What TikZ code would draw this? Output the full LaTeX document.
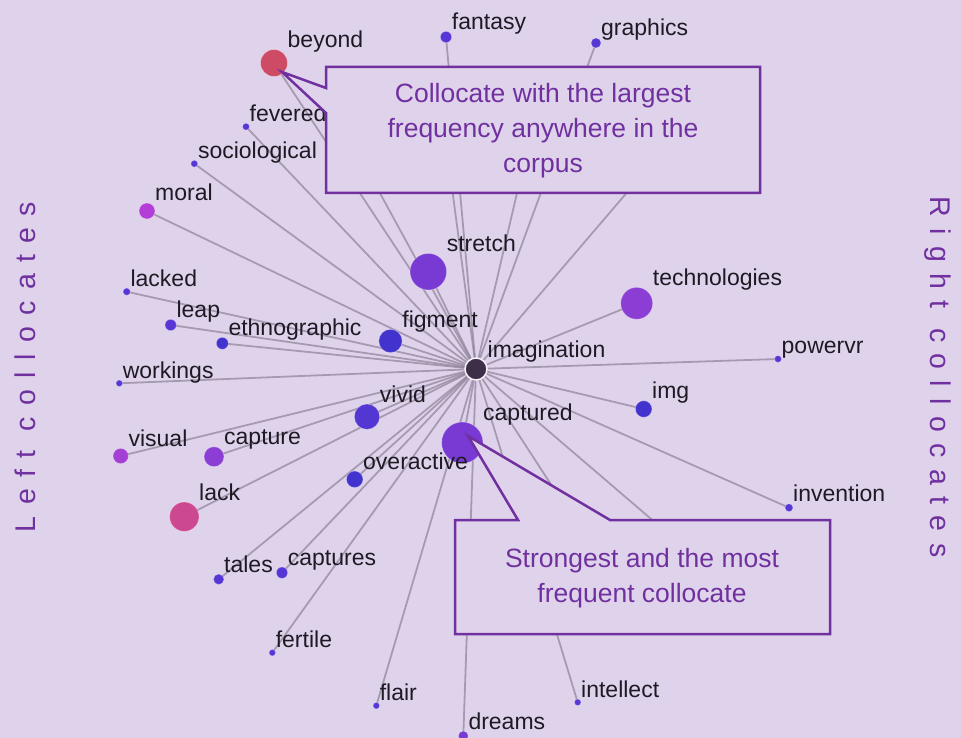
\documentclass[tikz,border=0pt]{standalone}
\usepackage{fontspec}
\setmainfont{Liberation Sans}
\usetikzlibrary{calc}
\definecolor{bg}{HTML}{DFD3EB}
\definecolor{edge}{HTML}{8F8299}
\definecolor{callout}{HTML}{7030A0}
\definecolor{ink}{HTML}{1E1A24}
\definecolor{cRed}{HTML}{CE4B66}
\definecolor{cPink}{HTML}{CC4891}
\definecolor{cMag}{HTML}{B33DD6}
\definecolor{cVis}{HTML}{A43ED5}
\definecolor{cPur}{HTML}{8C3ED4}
\definecolor{cVio}{HTML}{783AD3}
\definecolor{cInd}{HTML}{5436D2}
\definecolor{cBlu}{HTML}{4233CE}
\definecolor{cDot}{HTML}{5836D6}
\definecolor{cHub}{HTML}{3E2F48}
\pgfdeclarelayer{back}
\pgfdeclarelayer{lines}
\pgfsetlayers{back,lines,main}
\begin{document}
\begin{tikzpicture}[x=1pt,y=-1pt,
  dot/.style={circle,inner sep=0pt,outer sep=0pt,draw=white,draw opacity=0.3,line width=0.8pt},
  lbl/.style={anchor=base west,inner sep=0pt,text=ink,font=\fontsize{23}{27}\selectfont},
  link/.style={draw=edge,draw opacity=0.7,line width=1.8pt},
  box/.style={draw=callout,line width=2.5pt,fill=bg,line join=miter},
  boxtext/.style={text=callout,align=center,font=\fontsize{26.5}{35}\selectfont},
  side/.style={text=callout,inner sep=0pt,font={\fontsize{28.5}{30}\selectfont\addfontfeature{LetterSpace=40}}}
]
\begin{pgfonlayer}{back}
\fill[bg] (0,0) rectangle (961,738);
\end{pgfonlayer}
\useasboundingbox (0,0) rectangle (961,738);

% hub
\node[dot,fill=cHub,minimum size=22pt,draw=white!70!bg,draw opacity=1,line width=1.5pt] (hub) at (476,369) {};
\node[lbl] (hub-l) at (487.5,357.5) {imagination};

% collocates
\foreach \n/\x/\y/\r/\c in {
  beyond/274/63/13.5/cRed,
  fantasy/446/37/5.7/cDot,
  graphics/596/43/5/cDot,
  fevered/246/126.7/3.5/cDot,
  sociological/194.3/163.7/3.5/cDot,
  moral/147/211/8/cMag,
  stretch/428.3/271.7/18.3/cVio,
  lacked/126.7/291.7/3.7/cDot,
  leap/170.7/325/5.7/cDot,
  ethnographic/222.3/343.3/6/cBlu,
  figment/390.5/341/11.7/cBlu,
  technologies/636.7/303.3/16/cPur,
  powervr/778/359/3.5/cDot,
  workings/119.3/383.3/3.3/cDot,
  vivid/367/416.7/12.7/cInd,
  img/643.7/409/8.3/cBlu,
  captured/462.3/442.7/20.7/cVio,
  visual/120.7/456/7.7/cVis,
  capture/214/456.7/10/cPur,
  overactive/354.7/479.3/8.3/cBlu,
  invention/789/507.7/4/cDot,
  lack/184.3/516.7/14.7/cPink,
  tales/218.7/579.3/5.3/cDot,
  captures/282/572.7/5.7/cDot,
  fertile/272.3/652.7/3.3/cDot,
  flair/376.3/705.7/3.3/cDot,
  dreams/463.3/736/5/cVio,
  intellect/577.7/702.3/3.3/cDot}{
  \pgfmathsetmacro\d{2*\r}
  \node[dot,fill=\c,minimum size=\d pt] (\n) at (\x,\y) {};
  \node[lbl] (\n-l) at ([shift={(\r,-\r-2)}]\n.center) {\n};
  \begin{pgfonlayer}{lines}
    \draw[link] (hub.center) -- (\n.center);
  \end{pgfonlayer}
}

% connectors whose far ends lie under the callouts
\coordinate (h1) at (340,120);
\coordinate (h2) at (443,120);
\coordinate (h3) at (534,120);
\coordinate (h4) at (689,120);
\coordinate (h5) at (699,560);
\coordinate (h6) at (600,560);
\begin{pgfonlayer}{lines}
\foreach \h in {h1,h2,h3,h4,h5,h6} \draw[link] (hub.center) -- (\h);
\end{pgfonlayer}

% callouts
\coordinate (tipA) at (282,72);
\draw[box] (326,67) -- (760,67) -- (760,193) -- (326,193) -- (326,113) -- (tipA) -- (326,88) -- cycle;
\node[boxtext] (noteA) at (543,131) {Collocate with the largest\\frequency anywhere in the\\corpus};

\coordinate (tipB) at (468,436);
\draw[box] (455,520) -- (518,520) -- (tipB) -- (610,520) -- (830,520) -- (830,634) -- (455,634) -- cycle;
\node[boxtext] (noteB) at (642,578) {Strongest and the most\\frequent collocate};

% side titles
\node[side,rotate=90,anchor=base] (leftT) at (35,367) {Left collocates};
\node[side,rotate=-90,anchor=base] (rightT) at (930,377) {Right collocates};
\end{tikzpicture}
\end{document}
